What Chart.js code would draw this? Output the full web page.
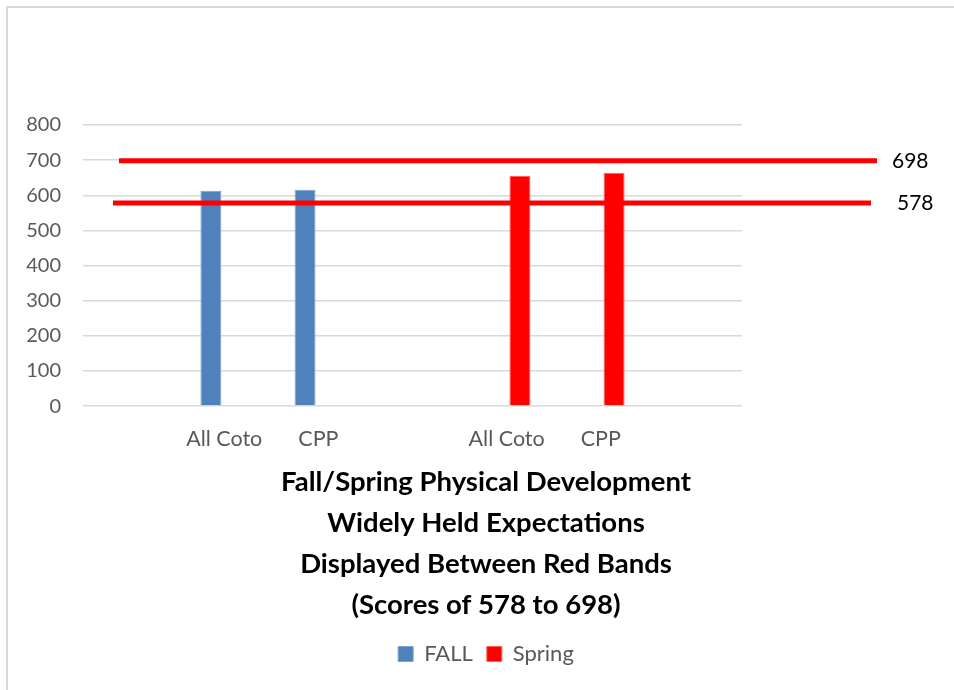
<!DOCTYPE html>
<html>
<head>
<meta charset="utf-8">
<title>Fall/Spring Physical Development</title>
<script src="https://cdn.jsdelivr.net/npm/chart.js@4.4.1/dist/chart.umd.min.js"></script>
<style>
    html, body {
        margin: 0;
        padding: 0;
        overflow: hidden;
        background: #fff;
    }
    #frame {
        position: absolute;
        left: 6px;
        top: 6px;
        width: 960px;
        height: 700px;
        border-left: 2px solid #d9d9d9;
        border-top: 2px solid #d9d9d9;
    }
    #frame canvas {
        position: absolute;
        left: 0;
        top: 0;
    }
</style>
</head>
<body>
<div id="frame">
    <canvas id="chart" width="956" height="682"></canvas>
</div>

<script>
// ============================================
// Data
// ============================================

// blank slots keep the two groups apart
const categories = ['', 'All Coto', 'CPP', '', 'All Coto', 'CPP', ''];
const fallScores = [null, 613, 616, null, null, null, null];
const springScores = [null, null, null, null, 655, 664, null];

// expectation band (bottom / top score)
const bandValues = [578, 698];

const yTicks = [0, 100, 200, 300, 400, 500, 600, 700, 800];

const titleLines = [
    'Fall/Spring Physical Development',
    'Widely Held Expectations',
    'Displayed Between Red Bands',
    '(Scores of 578 to 698)'
];

const FONT = 'Lato, "Open Sans", sans-serif';
const GRAY = '#595959';

// ============================================
// Red band lines + their labels
// ============================================

const bandLines = {
    id: 'bandLines',
    afterDatasetsDraw(chart) {
        const ctx = chart.ctx;
        const y = chart.scales.y;
        const area = chart.chartArea;

        // slightly different start/end for each line, like the original sketch
        const starts = [30, 36];
        const ends = [129, 135];
        const labelX = [155, 150];

        ctx.save();
        for (let i = 0; i < bandValues.length; i++) {
            const py = y.getPixelForValue(bandValues[i]);
            ctx.strokeStyle = '#ff0000';
            ctx.lineWidth = 5;
            ctx.beginPath();
            ctx.moveTo(area.left + starts[i], py);
            ctx.lineTo(area.right + ends[i], py);
            ctx.stroke();

            ctx.fillStyle = '#000';
            ctx.font = '21px ' + FONT;
            ctx.textAlign = 'left';
            ctx.textBaseline = 'middle';
            ctx.fillText(String(bandValues[i]), area.right + labelX[i], py);
        }
        ctx.restore();
    }
};

// ============================================
// Chart
// ============================================

function renderChart() {
    const ctx = document.getElementById('chart').getContext('2d');

    new Chart(ctx, {
        type: 'bar',
        data: {
            labels: categories,
            datasets: [{
                label: 'FALL',
                data: fallScores,
                backgroundColor: '#4f81bd',
                borderColor: '#7ea3d2',
                borderWidth: 1,
                categoryPercentage: 0.565,
                barPercentage: 0.79
            }, {
                label: 'Spring',
                data: springScores,
                backgroundColor: '#ff0000',
                borderColor: '#ff6060',
                borderWidth: 1,
                categoryPercentage: 0.565,
                barPercentage: 0.79
            }]
        },
        options: {
            responsive: false,
            animation: false,
            layout: {
                padding: { left: 0, right: 0, top: 117, bottom: 15 }
            },
            scales: {
                x: {
                    grid: { display: false },
                    border: { display: false },
                    afterFit(scale) { scale.height = 45; },
                    ticks: {
                        color: GRAY,
                        font: { family: FONT, size: 21.5 },
                        padding: 12,
                        autoSkip: false,
                        maxRotation: 0
                    }
                },
                y: {
                    min: 0,
                    max: 800,
                    afterBuildTicks(scale) {
                        scale.ticks = yTicks.map(v => ({ value: v }));
                    },
                    afterFit(scale) { scale.width = 75; },
                    grid: {
                        color: '#d9d9d9',
                        lineWidth: 1.5,
                        drawTicks: false
                    },
                    border: { display: false },
                    ticks: {
                        color: GRAY,
                        font: { family: FONT, size: 20 },
                        padding: 22
                    }
                },
                // empty axis on the right leaves room for the band labels
                gutter: {
                    type: 'linear',
                    position: 'right',
                    display: true,
                    afterFit(scale) { scale.width = 222; },
                    grid: { display: false, drawTicks: false },
                    border: { display: false },
                    ticks: { display: false }
                }
            },
            plugins: {
                title: {
                    display: true,
                    position: 'bottom',
                    text: titleLines,
                    color: '#000',
                    font: { family: FONT, size: 27.5, weight: 'bold', lineHeight: 1.49 },
                    padding: { top: 11, bottom: 3 },
                    weight: 500
                },
                legend: {
                    position: 'bottom',
                    weight: 3000,
                    labels: {
                        color: GRAY,
                        font: { family: FONT, size: 22 },
                        boxWidth: 15,
                        boxHeight: 15,
                        padding: 14,
                        useBorderRadius: false
                    }
                },
                tooltip: { enabled: false }
            }
        },
        plugins: [bandLines]
    });
}

document.addEventListener('DOMContentLoaded', renderChart);
</script>
</body>
</html>
